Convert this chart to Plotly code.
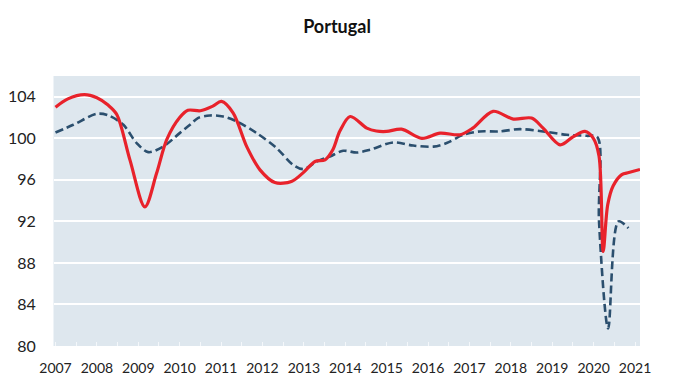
import plotly.graph_objects as go

# Data (fractional years)
red_x = [2007.0, 2007.3, 2007.7, 2008.0, 2008.27, 2008.48, 2008.8, 2009.16, 2009.44, 2009.69,
         2010.0, 2010.2, 2010.5, 2010.8, 2011.01, 2011.29, 2011.62, 2011.94, 2012.3, 2012.7,
         2012.98, 2013.27, 2013.51, 2013.7, 2013.87, 2014.12, 2014.52, 2014.75, 2015.0, 2015.36,
         2015.85, 2016.29, 2016.77, 2017.08, 2017.57, 2018.06, 2018.5, 2018.78, 2019.19, 2019.51,
         2019.79, 2019.99, 2020.13, 2020.23, 2020.34, 2020.47, 2020.68, 2020.85, 2021.12]
red_y = [103.0, 103.8, 104.2, 103.9, 103.2, 102.3, 97.9, 93.4, 96.6, 99.9,
         102.0, 102.7, 102.65, 103.1, 103.55, 102.45, 99.2, 96.96, 95.74, 95.84,
         96.67, 97.77, 97.93, 98.9, 100.7, 102.1, 100.98, 100.7, 100.66, 100.88,
         100.0, 100.5, 100.34, 100.98, 102.6, 101.85, 101.95, 100.98, 99.37, 100.17,
         100.66, 100.02, 98.3, 89.1, 93.6, 95.4, 96.5, 96.7, 97.0]

blue_x = [2007.0, 2007.43, 2008.0, 2008.28, 2008.64, 2008.96, 2009.24, 2009.6, 2010.0, 2010.25,
          2010.44, 2010.73, 2011.05, 2011.38, 2011.86, 2012.34, 2012.74, 2012.99, 2013.31, 2013.63,
          2013.95, 2014.28, 2014.6, 2015.16, 2015.64, 2016.13, 2016.45, 2016.85, 2017.25, 2017.7,
          2018.22, 2018.78, 2019.35, 2019.83, 2020.09, 2020.13, 2020.35, 2020.6, 2020.84]
blue_y = [100.56, 101.3, 102.36, 102.2, 101.3, 99.54, 98.67, 99.2, 100.5, 101.3,
          101.95, 102.2, 102.1, 101.62, 100.5, 99.06, 97.45, 97.03, 97.77, 98.25,
          98.8, 98.63, 98.9, 99.6, 99.3, 99.2, 99.54, 100.34, 100.66, 100.66,
          100.88, 100.66, 100.34, 100.24, 100.12, 92.0, 81.7, 92.0, 91.34]

year_ticks = list(range(2007, 2022))
year_labels = [str(y) for y in year_ticks]
y_ticks = [80, 84, 88, 92, 96, 100, 104]

fig = go.Figure()
fig.add_trace(go.Scatter(x=blue_x, y=blue_y, mode="lines",
                         line=dict(color="#2B4F6E", width=2.6, dash="8px,4px", shape="spline", smoothing=0.9),
                         showlegend=False, hoverinfo="skip"))
fig.add_trace(go.Scatter(x=red_x, y=red_y, mode="lines",
                         line=dict(color="#E8222B", width=3.2, shape="spline", smoothing=0.9),
                         showlegend=False, hoverinfo="skip"))

fig.update_layout(
    width=672, height=382,
    margin=dict(l=46, r=40, t=68, b=44),
    paper_bgcolor="white",
    plot_bgcolor="#DEE7EE",
    font=dict(family="Lato", color="#222222"),
    title=dict(text="<b>Portugal</b>", x=0.4896, xanchor="center", y=0.95, yanchor="middle",
               font=dict(family="Lato", size=18, color="#111111")),
    xaxis=dict(range=[2006.964, 2021.12], tickvals=year_ticks, ticktext=year_labels, automargin=False,
               showgrid=False, zeroline=False, ticks="inside", ticklen=4, tickcolor="#F4F7FA",
               minor=dict(dtick=0.5, tick0=2007, ticks="inside", ticklen=4, tickcolor="#F4F7FA", showgrid=False),
               tickfont=dict(family="Lato", size=14, color="#222222"), ticklabelstandoff=12),
    yaxis=dict(range=[80, 106], tickvals=y_ticks, showgrid=True, gridcolor="#FFFFFF", gridwidth=1.5,
               automargin=False,
               zeroline=False, showline=True, linecolor="#EEF3F7", linewidth=1,
               tickfont=dict(family="Lato", size=16, color="#222222"), ticklabelstandoff=14),
)

fig.write_html("out.html")
